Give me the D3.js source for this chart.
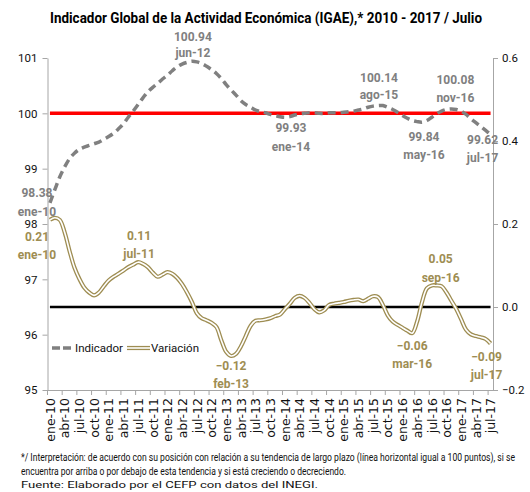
<!DOCTYPE html>
<html>
<head>
<meta charset="utf-8">
<script src="https://cdn.jsdelivr.net/npm/d3@7"></script>
<style>
  body { margin: 0; background: #fff; }
  text { font-family: Roboto, "Liberation Sans", sans-serif; }
</style>
</head>
<body>
<div id="chart"></div>
<script>
// categorias (mensual, ene-10 a jul-17)
const meses = ["ene", "feb", "mar", "abr", "may", "jun", "jul", "ago", "sep", "oct", "nov", "dic"];
const anios = ["10", "11", "12", "13", "14", "15", "16", "17"];
const periodos = [];
anios.forEach(a => meses.forEach((m, k) => {
    if (!(a === "17" && k > 6)) periodos.push(m + "-" + a);
}));

// Indicador (eje izquierdo)
const indicador = [
    98.38, 98.62, 98.85, 99.03, 99.18, 99.28, 99.35, 99.39, 99.42, 99.45, 99.48, 99.53,
    99.58, 99.64, 99.72, 99.81, 99.93, 100.04, 100.16, 100.28, 100.39, 100.47, 100.54, 100.62,
    100.69, 100.77, 100.84, 100.89, 100.92, 100.94, 100.93, 100.90, 100.85, 100.79, 100.72, 100.63,
    100.52, 100.42, 100.33, 100.23, 100.16, 100.11, 100.06, 100.03, 100.01, 99.98, 99.96, 99.94,
    99.93, 99.94, 99.97, 99.99, 100.00, 100.01, 100.01, 100.00, 100.00, 100.01, 100.01, 100.01,
    100.02, 100.03, 100.04, 100.06, 100.08, 100.11, 100.13, 100.14, 100.14, 100.11, 100.07, 100.02,
    99.96, 99.91, 99.87, 99.85, 99.84, 99.87, 99.93, 99.99, 100.04, 100.07, 100.08, 100.07,
    100.04, 99.98, 99.90, 99.83, 99.76, 99.69, 99.62
];

// Variacion (eje derecho)
const variacion = [
    0.21, 0.215, 0.21, 0.18, 0.135, 0.095, 0.068, 0.047, 0.035, 0.028, 0.035, 0.05,
    0.064, 0.073, 0.08, 0.088, 0.096, 0.102, 0.108, 0.104, 0.096, 0.083, 0.073, 0.078,
    0.084, 0.08, 0.07, 0.055, 0.035, 0.012, -0.015, -0.027, -0.032, -0.038, -0.048, -0.08,
    -0.108, -0.118, -0.113, -0.095, -0.07, -0.045, -0.033, -0.032, -0.03, -0.027, -0.022, -0.018,
    -0.005, 0.008, 0.022, 0.027, 0.022, 0.01, -0.005, -0.013, -0.008, 0.005, 0.008, 0.01,
    0.012, 0.015, 0.017, 0.018, 0.014, 0.02, 0.026, 0.024, 0.005, -0.02, -0.035, -0.043,
    -0.05, -0.057, -0.063, -0.035, 0.012, 0.045, 0.052, 0.052, 0.05, 0.035, 0.015, -0.005,
    -0.03, -0.055, -0.066, -0.07, -0.073, -0.077, -0.088
];

const tendencia = 100;   // linea roja
const cero = 0;          // linea negra

const ticksIzq = [95, 96, 97, 98, 99, 100, 101];
const ticksDer = [-0.2, 0.0, 0.2, 0.4, 0.6];

// puntos etiquetados
const marcasIndicador = [0, 29, 48, 67, 76, 82, 90];
const marcasVariacion = [0, 18, 37, 74, 80, 90];

const titulo = "Indicador Global de la Actividad Económica (IGAE),* 2010 - 2017 / Julio";
const notas = [
    "*/ Interpretación: de acuerdo con su posición con relación a su tendencia de largo plazo (línea horizontal igual a 100 puntos), si se",
    "encuentra por arriba o por debajo de esta tendencia y si está creciendo o decreciendo.",
    "Fuente: Elaborado por el CEFP con datos del INEGI."
];

const width = 530, height = 492;
const gris = "#808080", oliva = "#9e8d52", ejes = "#a6a6a6";

const svg = d3.select("#chart").append("svg")
    .attr("width", width)
    .attr("height", height);

const x = d3.scaleBand().domain(periodos).range([47.5, 493]);
const yL = d3.scaleLinear().domain([95, 101]).range([390, 58]);
const yR = d3.scaleLinear().domain([-0.2, 0.6]).range([390, 58]);
const cx = d => x(d) + x.bandwidth() / 2;

// titulo
svg.append("text")
    .attr("x", 50).attr("y", 23)
    .attr("textLength", 432).attr("lengthAdjust", "spacingAndGlyphs")
    .style("font-size", "14px").style("font-weight", "bold")
    .text(titulo);

// ejes
const axL = svg.append("g")
    .attr("transform", "translate(47.5,0)")
    .call(d3.axisLeft(yL).tickValues(ticksIzq).tickSize(5).tickSizeOuter(0).tickPadding(5).tickFormat(d3.format("d")));
const axR = svg.append("g")
    .attr("transform", "translate(493,0)")
    .call(d3.axisRight(yR).tickValues(ticksDer).tickSize(5).tickSizeOuter(0).tickPadding(4).tickFormat(d3.format(".1f")));
[axL, axR].forEach(g => {
    g.selectAll("path, line").attr("stroke", ejes);
    g.selectAll("text").attr("fill", "#111").style("font-size", "11.5px")
        .style("font-family", "'Liberation Sans Narrow', Roboto, sans-serif");
});

const axX = svg.append("g")
    .attr("transform", "translate(0,390)")
    .call(d3.axisBottom(x).tickValues(periodos.filter((d, i) => i % 3 === 0)).tickSize(0).tickSizeOuter(0));
axX.select(".domain").attr("stroke", ejes);
axX.selectAll("text")
    .attr("transform", "rotate(-90)")
    .attr("text-anchor", "end")
    .attr("x", -8).attr("y", 0).attr("dy", "0.38em")
    .attr("fill", "#111")
    .style("font-family", "'DejaVu Sans', sans-serif").style("font-size", "12.5px");
// marcas entre categorias cada 3 meses
axX.selectAll(".sep")
    .data(periodos.filter((d, i) => i % 3 === 0))
    .join("line")
    .attr("x1", d => x(d)).attr("x2", d => x(d))
    .attr("y1", 0).attr("y2", 5)
    .attr("stroke", ejes);

const x0 = cx(periodos[0]), x1 = cx(periodos[periodos.length - 1]);

// lineas de referencia
svg.append("line")
    .attr("x1", x0).attr("x2", x1)
    .attr("y1", yL(tendencia)).attr("y2", yL(tendencia))
    .attr("stroke", "#ff0000").attr("stroke-width", 3.5);
svg.append("line")
    .attr("x1", x0).attr("x2", x1)
    .attr("y1", yR(cero)).attr("y2", yR(cero))
    .attr("stroke", "#000").attr("stroke-width", 2.5);

// Indicador
const lineL = d3.line().x((d, i) => cx(periodos[i])).y(d => yL(d)).curve(d3.curveCatmullRom);
svg.append("path")
    .datum(indicador)
    .attr("d", lineL)
    .attr("fill", "none")
    .attr("stroke", gris).attr("stroke-width", 3.5)
    .attr("stroke-dasharray", "8,5");

// Variacion (linea doble)
const lineR = d3.line().x((d, i) => cx(periodos[i])).y(d => yR(d)).curve(d3.curveCatmullRom);
svg.append("path").datum(variacion).attr("d", lineR)
    .attr("fill", "none").attr("stroke", oliva).attr("stroke-width", 4.2);
svg.append("path").datum(variacion).attr("d", lineR)
    .attr("fill", "none").attr("stroke", "#fff").attr("stroke-width", 1.6);

// etiquetas de datos
const fmt = d3.format(".2f");
const offL = {0: [-13, -6, 13], 29: [1, -20, -4], 48: [6, 15, 34], 67: [1, -24, -7],
              76: [2, 19, 37], 82: [4, -25, -7], 90: [-8, 10, 28]};
const offR = {0: [-13, 21.5, 39.5], 18: [1, -22.6, -4.6], 37: [0, 14, 32],
              74: [0, 17, 35], 80: [-1, -23.6, -4.6], 90: [-4, 17, 35]};

function etiquetas(idx, serie, y, off, color) {
    const g = svg.append("g")
        .attr("fill", color)
        .style("font-size", "12px").style("font-weight", "bold")
        .attr("text-anchor", "middle");
    idx.forEach(i => {
        const px = cx(periodos[i]) + off[i][0], py = y(serie[i]);
        g.append("text").attr("x", px).attr("y", py + off[i][1]).text(fmt(serie[i]));
        g.append("text").attr("x", px).attr("y", py + off[i][2]).text(periodos[i]);
    });
}
etiquetas(marcasIndicador, indicador, yL, offL, gris);
etiquetas(marcasVariacion, variacion, yR, offR, oliva);

// leyenda
const ley = svg.append("g").style("font-size", "11.5px").attr("fill", "#111");
ley.append("line").attr("x1", 52).attr("x2", 72).attr("y1", 348).attr("y2", 348)
    .attr("stroke", gris).attr("stroke-width", 3.5).attr("stroke-dasharray", "8,3");
ley.append("text").attr("x", 75).attr("y", 352).text("Indicador");
ley.append("line").attr("x1", 127).attr("x2", 150).attr("y1", 348).attr("y2", 348)
    .attr("stroke", oliva).attr("stroke-width", 4.2);
ley.append("line").attr("x1", 127).attr("x2", 150).attr("y1", 348).attr("y2", 348)
    .attr("stroke", "#fff").attr("stroke-width", 1.6);
ley.append("text").attr("x", 151).attr("y", 352).text("Variación");

// notas al pie
const anchos = [494, 325, 297];
svg.append("g").attr("fill", "#111")
    .selectAll("text")
    .data(notas)
    .join("text")
    .attr("x", 21)
    .attr("y", (d, i) => 461 + i * 13.5)
    .style("font-size", (d, i) => i < 2 ? "10px" : "9.5px")
    .attr("textLength", (d, i) => anchos[i])
    .attr("lengthAdjust", "spacingAndGlyphs")
    .text(d => d);
</script>
</body>
</html>
